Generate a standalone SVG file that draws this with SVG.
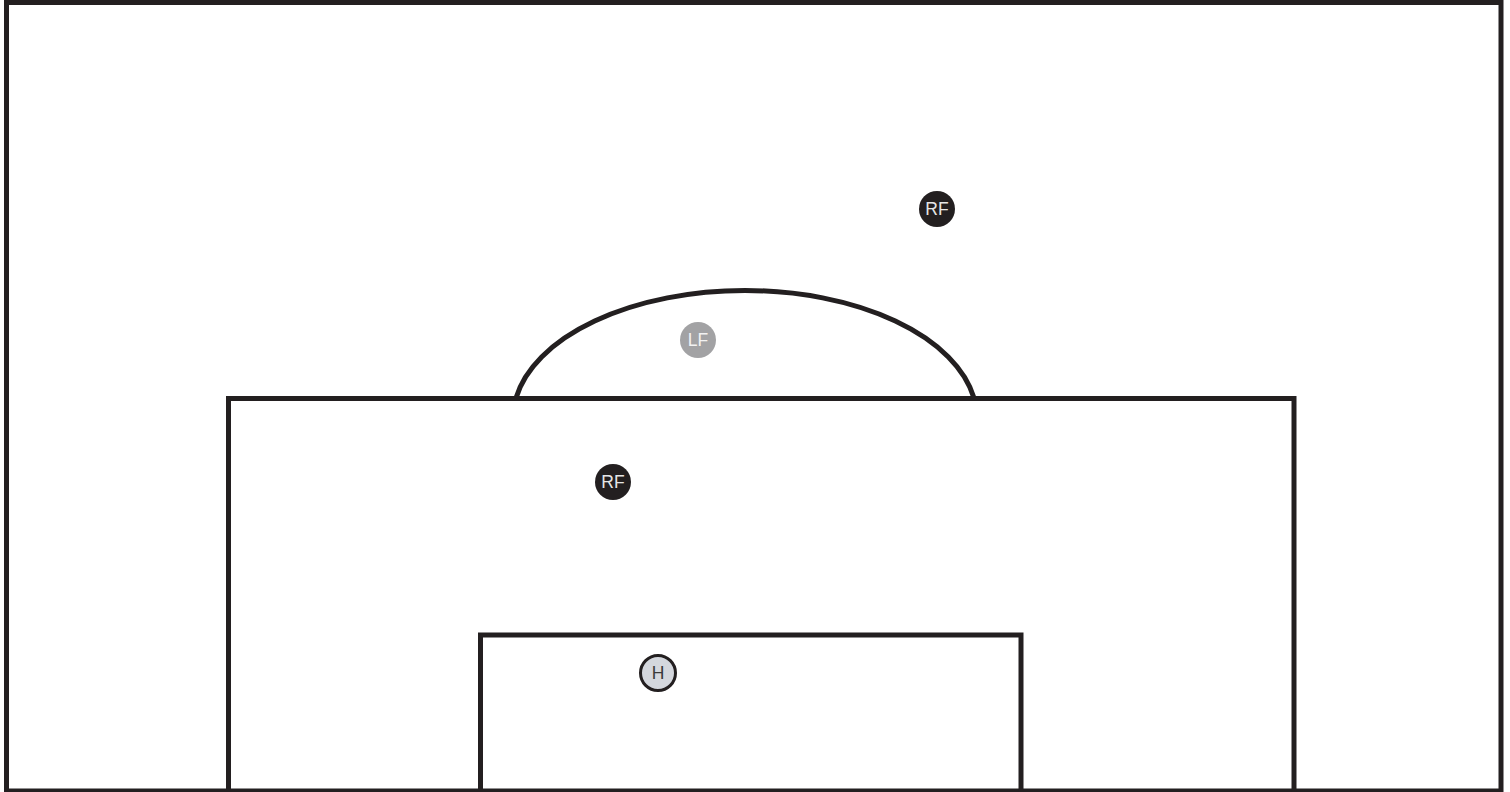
<svg xmlns="http://www.w3.org/2000/svg" width="1510" height="792" viewBox="0 0 1510 792">
<style>
.line{fill:none;stroke:#231f20;stroke-width:5}
.lbl{font-family:"Liberation Sans",Arial,sans-serif;font-size:17.5px;text-anchor:middle;dominant-baseline:central}
</style>
<rect width="1510" height="792" fill="#ffffff"/>
<g id="pitch">
<rect class="line" x="6.5" y="2.5" width="1494.5" height="788.5"/>
<rect class="line" x="228.5" y="398.5" width="1065.5" height="420"/>
<rect class="line" x="480.5" y="635" width="540.5" height="200"/>
<path class="line" d="M516,398 A232,128 0 0 1 974,398"/>
</g>
<g id="connectors"></g>
<g id="rf1">
<circle cx="937" cy="209" r="18" fill="#231f20"/>
<text class="lbl" x="937" y="209" fill="#e6e6e6">RF</text>
</g>
<g id="lf">
<circle cx="698" cy="340" r="18" fill="#a2a2a4"/>
<text class="lbl" x="698" y="340" fill="#f2f2f2">LF</text>
</g>
<g id="rf2">
<circle cx="613" cy="482" r="18" fill="#231f20"/>
<text class="lbl" x="613" y="482" fill="#e6e6e6">RF</text>
</g>
<g id="h">
<circle cx="658" cy="673" r="17.5" fill="#d4d7dd" stroke="#231f20" stroke-width="3"/>
<text class="lbl" x="658" y="673" fill="#3a3a3a">H</text>
</g>
</svg>
